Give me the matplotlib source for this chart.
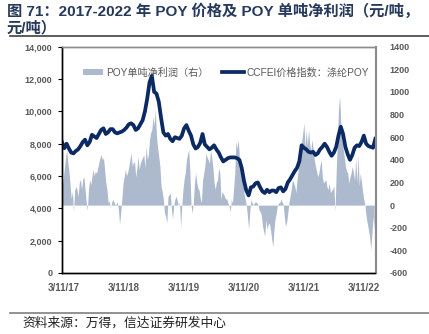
import matplotlib
matplotlib.use("Agg")
import matplotlib.pyplot as plt
from matplotlib.patches import Patch
from matplotlib.lines import Line2D
import pandas as pd

# ---------------- data ----------------
# CCFEI price index: polyester POY (yuan/ton), 14-day sampling
price_start = "2017-03-02"
price = [8100, 7720, 8000, 7700, 7450, 7400, 7550, 7650, 7850, 8100,
         8250, 7900, 8100, 8550, 8450, 8350, 8600, 8850, 8950, 8600,
         8700, 8900, 8900, 8700, 8640, 8700, 8750, 8850, 9000, 9200,
         9260, 9150, 8850, 8950, 9200, 9450, 10000, 10800, 11800, 12200,
         11200, 11100, 10600, 9600, 8700, 8500, 8600, 8300, 8150, 8400,
         8350, 8300, 8500, 8950, 9150, 8800, 8500, 7950, 7700, 7800,
         8050, 8600, 7950, 7800, 7650, 7750, 7900, 7650, 7450, 7150,
         6900, 7000, 7100, 7150, 7150, 7150, 7100, 7000, 6500, 5700,
         5100, 4800, 5300, 5350, 5550, 5600, 5300, 5050, 4950, 5150,
         5000, 5100, 5100, 5000, 5250, 5300, 5050, 5200, 5600, 5800,
         6050, 6300, 6500, 6900, 7900, 7750, 7650, 7500, 7450, 7500,
         7300, 7400, 7650, 7800, 8000, 7800, 7500, 7250, 7450, 7800,
         8500, 9050, 8600, 7800, 7350, 7000, 7300, 7750, 7900, 7850,
         8100, 8500, 8000, 7850, 7800, 7750, 8300]

# POY net profit per ton (yuan/ton, right axis), 7-day sampling
profit_start = "2017-03-02"
profit = [150, 225, 320, 410, 490, 380, 300, 180, 60,
          120, -55, 130, 165, 140, 75, 200, 225, 140, 230,
          250, 140, 30, -45, 140, 225, 180, 250, 315,
          260, 300, 280, 330, 375, 420, 447, 400, 420,
          315, 200, 140, 20, 40, -20, 20, 50, 30,
          0, 10, 30, -40, -170, -60, 60, 195, 250,
          315, 260, 290, 340, 400, 460, 340, 380, 375,
          250, 330, 430, 315, 370, 400, 420, 447, 330,
          520, 400, 450, 580, 640, 668, 785, 700, 850,
          608, 508, 430, 343, 166, 120, 50, -70, -100,
          -160, 78, 90, 108, -40, -120, 0, 50, 80,
          40, -10, 30, -200, 0, 137, 230, 285, 400,
          450, 490, 300, 0, -70, 20, 195, 285, 200,
          150, 130, 60, 20, 220, 280, 343, 460, 420,
          400, 370, 490, 420, 330, 200, 140, 200, 220,
          330, 285, 50, 120, 100, 80, 50, 60, 20,
          0, -60, 50, 20, 150, 285, 565, 500, 580,
          420, 340, 280, 225, 100, 50, 0, -100, -215,
          -60, 50, 20, 0, 20, 30, 20, 10, -40,
          -60, -85, -180, -230, -275, -130, -215, -170, -160,
          -215, -300, -370, -215, -120, -70, 0, 20, 20,
          50, 30, 10, -100, -187, -150, -70, 20, 80,
          137, 225, 200, 170, 110, 225, 300, 430, 520,
          560, 637, 727, 500, 668, 520, 668, 540, 480,
          580, 500, 400, 343, 300, 250, 285, 350, 400,
          250, 195, 210, 225, 160, 140, 195, 110, 130,
          140, 170, -55, 285, 548, 845, 960, 727, 580,
          500, 430, 343, 300, 285, 195, 250, 285, 343,
          285, 220, 420, 195, 450, 170, 285, 200, 110,
          50, 0, -100, -160, -215, -280, -395, -260, -100,
          -215]

x_ticks = ["2017-03-11", "2018-03-11", "2019-03-11", "2020-03-11", "2021-03-11", "2022-03-11"]
x_tick_labels = ["3/11/17", "3/11/18", "3/11/19", "3/11/20", "3/11/21", "3/11/22"]
left_ticks = [0, 2000, 4000, 6000, 8000, 10000, 12000, 14000]
right_ticks = [-600, -400, -200, 0, 200, 400, 600, 800, 1000, 1200, 1400]

title_line1 = "图 71：2017-2022 年 POY 价格及 POY 单吨净利润（元/吨，"
title_line2 = "元/吨）"
source_text = "资料来源：万得，信达证券研发中心"
label_profit = "POY单吨净利润（右）"
label_price = "CCFEI价格指数：涤纶POY"

# ---------------- style ----------------
FAM = ["Liberation Sans", "Noto Sans CJK SC", "DejaVu Sans"]
plt.rcParams["font.family"] = FAM
TICK_COLOR = "#595959"
LINE_COLOR = "#0b2a63"
AREA_COLOR = "#adb9cc"
TITLE_COLOR = "#26395c"

price_dates = pd.date_range(price_start, periods=len(price), freq="14D")
profit_dates = pd.date_range(profit_start, periods=len(profit), freq="7D")

fig = plt.figure(figsize=(4.29, 3.34), dpi=100)
ax = fig.add_axes([62 / 429, 1 - 273 / 334, 313.5 / 429, 226.3 / 334])
ax2 = ax.twinx()

ax2.fill_between(profit_dates, profit, 0, color=AREA_COLOR, lw=0)
ax.plot(price_dates, price, color=LINE_COLOR, lw=2.7, solid_joinstyle="round")

ax.set_zorder(ax2.get_zorder() + 1)
ax.patch.set_visible(False)

xmin = pd.Timestamp("2017-03-02")
xmax = pd.Timestamp("2022-05-20")
ax.set_xlim(xmin, xmax)
ax.set_ylim(0, 14000)
ax2.set_ylim(-600, 1400)

ax.set_xticks(pd.to_datetime(x_ticks))
ax.set_xticklabels(x_tick_labels, fontsize=7, fontweight="bold", color=TICK_COLOR)
ax.set_yticks(left_ticks)
ax.set_yticklabels([f"{v:,}" for v in left_ticks], fontsize=6.5, fontweight="bold", color=TICK_COLOR)
ax2.set_yticks(right_ticks)
ax2.set_yticklabels([str(v) for v in right_ticks], fontsize=6.5, fontweight="bold", color=TICK_COLOR)

ax.tick_params(axis="y", length=3, width=0.8, direction="out", pad=4)
ax.tick_params(axis="x", length=0, pad=7)
ax2.tick_params(axis="y", length=0, pad=10)

for a in (ax, ax2):
    a.spines["left"].set_color("black")
    a.spines["bottom"].set_color("black")
    a.spines["left"].set_linewidth(1.0)
    a.spines["bottom"].set_linewidth(1.0)
    a.spines["top"].set_color("#8c8c8c")
    a.spines["right"].set_color("#8c8c8c")
    a.spines["top"].set_linewidth(1.0)
    a.spines["right"].set_linewidth(1.5)

# legends
h1 = Patch(facecolor=AREA_COLOR, edgecolor="none")
leg1 = ax.legend([h1], [label_profit], loc="center left",
                 bbox_to_anchor=((82.7 - 62) / 313.5, (273 - 72.7) / 226.3),
                 frameon=False, borderpad=0, borderaxespad=0,
                 handlelength=2.0, handleheight=0.55, handletextpad=0.3,
                 prop={"family": FAM, "size": 7.3})
for t in leg1.get_texts():
    t.set_color(TICK_COLOR)
ax.add_artist(leg1)
h2 = Line2D([], [], color=LINE_COLOR, lw=2.7)
leg2 = ax.legend([h2], [label_price], loc="center left",
                 bbox_to_anchor=((221.7 - 62) / 313.5, (273 - 72.7) / 226.3),
                 frameon=False, borderpad=0, borderaxespad=0,
                 handlelength=2.2, handletextpad=0.2,
                 prop={"family": FAM, "size": 7.3})
for t in leg2.get_texts():
    t.set_color(TICK_COLOR)

# title
fig.text(7 / 429, 1 - 11 / 334, title_line1, fontsize=11, fontweight="bold",
         color=TITLE_COLOR, va="center", ha="left")
fig.text(7 / 429, 1 - 28 / 334, title_line2, fontsize=11, fontweight="bold",
         color=TITLE_COLOR, va="center", ha="left")
fig.add_artist(Line2D([10 / 429, 1.0], [1 - 35.5 / 334, 1 - 35.5 / 334],
                      color="#404040", lw=1.2, transform=fig.transFigure))

# source
fig.add_artist(Line2D([10 / 429, 1.0], [1 - 312.7 / 334, 1 - 312.7 / 334],
                      color="#7f7f7f", lw=1.2, transform=fig.transFigure))
fig.text(22 / 429, 1 - 323 / 334, source_text, fontsize=9.2, style="italic",
         color="#222222", va="center", ha="left")

fig.savefig("out.png", dpi=100)
